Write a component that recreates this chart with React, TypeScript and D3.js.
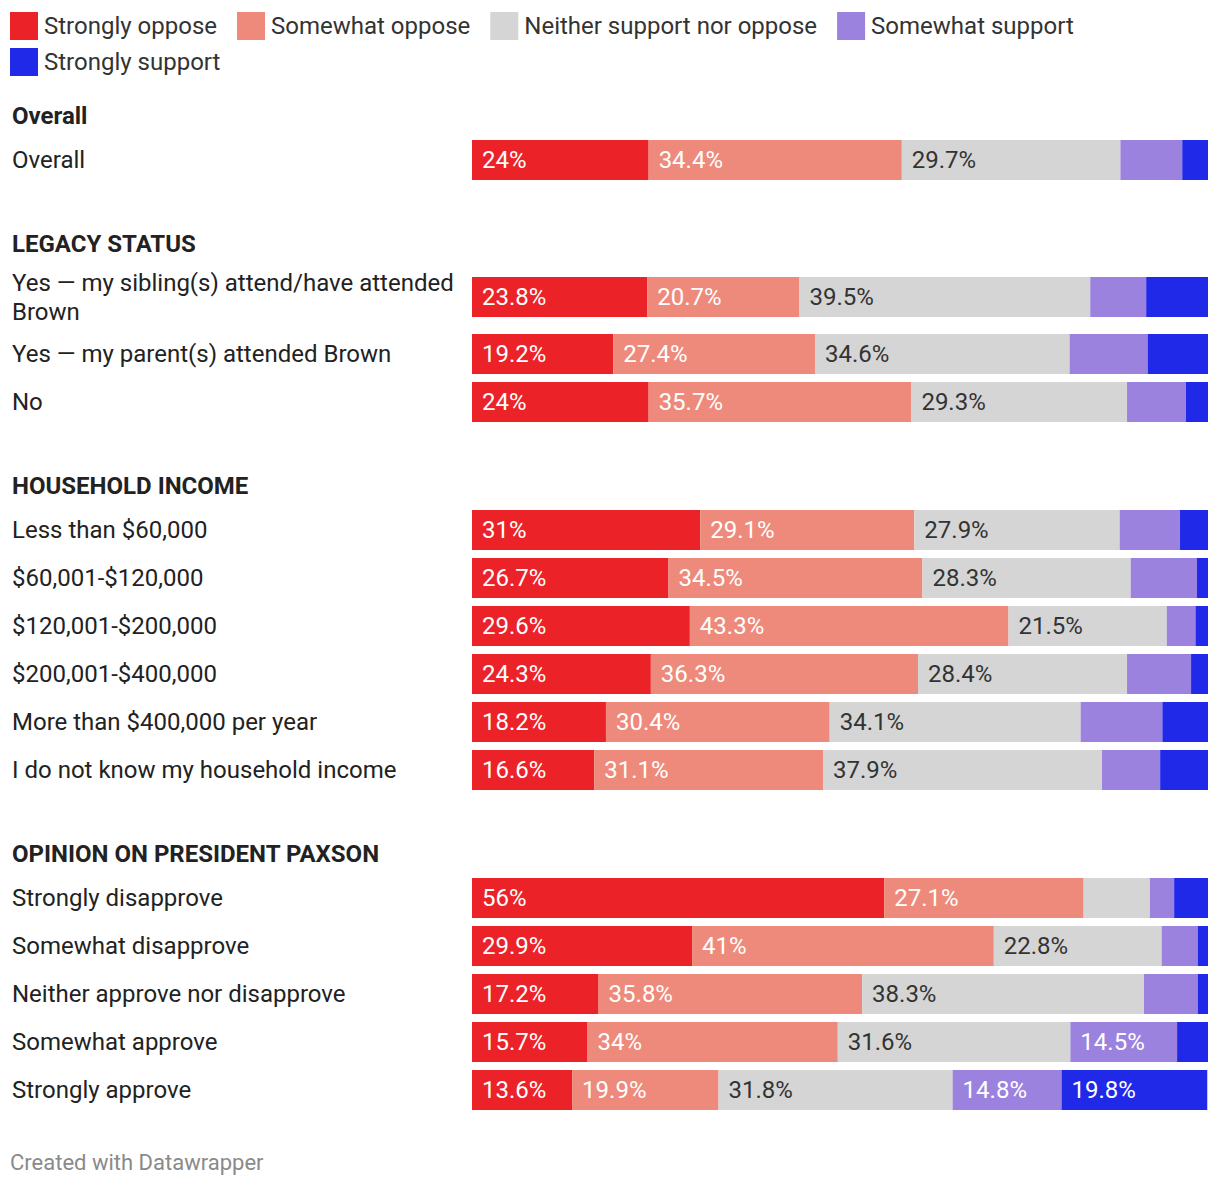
import React, { useEffect, useRef } from "react";
import * as d3 from "d3";

const seriesNames = [
  "Strongly oppose",
  "Somewhat oppose",
  "Neither support nor oppose",
  "Somewhat support",
  "Strongly support",
];
const seriesColors = ["#ec2229", "#ee8a7b", "#d5d5d5", "#9b82df", "#2129e9"];
const labelColors = ["#ffffff", "#ffffff", "#333333", "#ffffff", "#ffffff"];

const groups = ["Overall", "LEGACY STATUS", "HOUSEHOLD INCOME", "OPINION ON PRESIDENT PAXSON"];
const groupSizes = [1, 3, 6, 5];

const categories = [
  "Overall",
  "Yes — my sibling(s) attend/have attended Brown",
  "Yes — my parent(s) attended Brown",
  "No",
  "Less than $60,000",
  "$60,001-$120,000",
  "$120,001-$200,000",
  "$200,001-$400,000",
  "More than $400,000 per year",
  "I do not know my household income",
  "Strongly disapprove",
  "Somewhat disapprove",
  "Neither approve nor disapprove",
  "Somewhat approve",
  "Strongly approve",
];

const stronglyOppose = [24, 23.8, 19.2, 24, 31, 26.7, 29.6, 24.3, 18.2, 16.6, 56, 29.9, 17.2, 15.7, 13.6];
const somewhatOppose = [34.4, 20.7, 27.4, 35.7, 29.1, 34.5, 43.3, 36.3, 30.4, 31.1, 27.1, 41, 35.8, 34, 19.9];
const neither = [29.7, 39.5, 34.6, 29.3, 27.9, 28.3, 21.5, 28.4, 34.1, 37.9, 9.0, 22.8, 38.3, 31.6, 31.8];
const somewhatSupport = [8.4, 7.6, 10.6, 8.0, 8.2, 9.0, 3.9, 8.7, 11.1, 7.9, 3.3, 4.9, 7.3, 14.5, 14.8];
const stronglySupport = [3.5, 8.4, 8.2, 3.0, 3.8, 1.5, 1.7, 2.3, 6.2, 6.5, 4.6, 1.4, 1.4, 4.2, 19.8];

const footerText = "Created with Datawrapper";

const W = 1220;
const H = 1188;
const FONT = "Roboto, 'Noto Sans', sans-serif";
const FS = 24;

export default function App() {
  const ref = useRef<SVGSVGElement | null>(null);

  useEffect(() => {
    const svg = d3.select(ref.current);
    svg.selectAll("*").remove();

    // Legend
    const legend = svg.append("g");
    let lx = 10;
    let ly = 26;
    seriesNames.forEach((name, i) => {
      const g = legend.append("g");
      const t = g
        .append("text")
        .attr("x", 34)
        .attr("y", 0)
        .attr("dominant-baseline", "central")
        .attr("font-family", FONT)
        .attr("font-size", FS)
        .attr("fill", "#333")
        .text(name);
      const tw = (t.node() as SVGTextElement).getComputedTextLength();
      const itemW = 34 + tw;
      if (lx + itemW > W - 10) {
        lx = 10;
        ly += 36;
      }
      g.append("rect")
        .attr("x", 0)
        .attr("y", -14)
        .attr("width", 28)
        .attr("height", 28)
        .attr("fill", seriesColors[i]);
      g.attr("transform", `translate(${lx},${ly})`);
      lx += itemW + 20;
    });

    const series = [stronglyOppose, somewhatOppose, neither, somewhatSupport, stronglySupport];
    const x = d3.scaleLinear().domain([0, 100]).range([472, 1208]);

    const measure = svg
      .append("text")
      .attr("font-family", FONT)
      .attr("font-size", FS)
      .attr("visibility", "hidden");
    const wrap = (s: string, maxW: number) => {
      const words = s.split(" ");
      const lines: string[] = [];
      let cur = "";
      words.forEach((w) => {
        const test = cur ? cur + " " + w : w;
        measure.text(test);
        if ((measure.node() as SVGTextElement).getComputedTextLength() > maxW && cur) {
          lines.push(cur);
          cur = w;
        } else cur = test;
      });
      if (cur) lines.push(cur);
      return lines;
    };

    let headerY = 116;
    let idx = 0;
    let lastBottom = 0;
    groups.forEach((gName, gi) => {
      svg
        .append("text")
        .attr("x", 12)
        .attr("y", headerY)
        .attr("dominant-baseline", "central")
        .attr("font-family", FONT)
        .attr("font-size", FS)
        .attr("font-weight", 700)
        .attr("fill", "#222")
        .text(gName);
      let rowTop = headerY + 24;
      for (let r = 0; r < groupSizes[gi]; r++, idx++) {
        const lines = wrap(categories[idx], 448);
        const rowH = Math.max(40, lines.length * 29);
        const cy = rowTop + rowH / 2;
        const lab = svg
          .append("text")
          .attr("font-family", FONT)
          .attr("font-size", FS)
          .attr("fill", "#222");
        lines.forEach((ln, li) => {
          lab
            .append("tspan")
            .attr("x", 12)
            .attr("y", cy + (li - (lines.length - 1) / 2) * 29)
            .attr("dominant-baseline", "central")
            .text(ln);
        });
        const barTop = cy - 20;
        let acc = 0;
        series.forEach((s, si) => {
          const v = s[idx];
          const x0 = x(acc);
          const x1 = x(acc + v);
          svg
            .append("rect")
            .attr("x", x0)
            .attr("y", barTop)
            .attr("width", Math.max(0, x1 - x0))
            .attr("height", 40)
            .attr("fill", seriesColors[si]);
          if (v >= 12) {
            svg
              .append("text")
              .attr("x", x0 + 10)
              .attr("y", cy)
              .attr("dominant-baseline", "central")
              .attr("font-family", FONT)
              .attr("font-size", FS)
              .attr("fill", labelColors[si])
              .text(`${v}%`);
          }
          acc += v;
        });
        lastBottom = rowTop + rowH;
        rowTop = rowTop + rowH + 8;
      }
      headerY = lastBottom + 64;
    });

    measure.remove();

    svg
      .append("text")
      .attr("x", 10)
      .attr("y", lastBottom + 52)
      .attr("dominant-baseline", "central")
      .attr("font-family", FONT)
      .attr("font-size", 22)
      .attr("fill", "#8a8a8a")
      .text(footerText);
  }, []);

  return (
    <svg
      ref={ref}
      width={W}
      height={H}
      style={{ position: "absolute", left: 0, top: 0, background: "#fff" }}
    />
  );
}
